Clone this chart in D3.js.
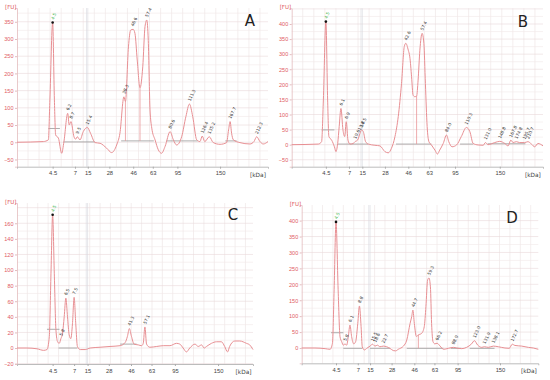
<!DOCTYPE html>
<html>
<head>
<meta charset="utf-8">
<script src="https://cdn.jsdelivr.net/npm/d3@7"></script>
<style>
body { margin: 0; background: #fff; }
svg { font-family: "DejaVu Sans", Arial, sans-serif; }
</style>
</head>
<body>
<div id="chart"></div>
<script>
// ladder sizes (kDa) shown under every x axis; positions are migration time in % of run
const ladderKda = ['4.5', '7', '15', '28', '46', '63', '95', '150'];
const ladderA = [14.2, 23.1, 28.2, 36.8, 46.3, 54.1, 63.9, 80.9];
const ladderB = [13.6, 22.8, 28.1, 37.1, 46.4, 54.7, 65.0, 82.8];
const ladderC = [15.1, 24.2, 29.9, 38.9, 48.3, 57.0, 66.9, 85.2];
const ladderD = [14.5, 23.7, 28.9, 38.0, 47.6, 56.1, 65.9, 83.8];

const yTicksA = [-50, 0, 50, 100, 150, 200, 250, 300, 350];
const yTicksB = [-50, 0, 50, 100, 150, 200, 250, 300, 350, 400];
const yTicksC = [-20, 0, 20, 40, 60, 80, 100, 120, 140, 160];
const yTicksD = [0, 50, 100, 150, 200, 250, 300, 350, 400];

// electropherogram traces: [time %, fluorescence FU]
const traceA = [[0,0],[10.5,2],[12.5,7],[13.1,123],[14.2,348],[14.9,123],[15.4,21],[16.5,12],[17.8,-32],[18.7,2],[20.2,84],[20.8,50],[21.5,60],[22.7,16],[23.4,9],[24.0,16],[25.1,7],[26.4,31],[28.0,43],[29.3,26],[31.1,-1],[33.1,-3],[35.7,-17],[37.7,-30],[39.7,-8],[41.0,26],[42.6,132],[43.2,118],[44.4,277],[45.3,326],[46.3,328],[47.0,316],[47.9,239],[49.0,158],[50.1,219],[51.0,336],[51.7,355],[52.3,296],[53.0,94],[53.7,41],[55.0,7],[56.3,-22],[57.6,-32],[59.0,-12],[61.0,31],[62.3,7],[63.6,-8],[65.6,16],[67.3,75],[68.7,111],[70.0,75],[71.6,7],[72.9,2],[73.8,18],[74.8,2],[76.6,16],[78.2,-1],[80.9,-6],[83.5,-1],[84.3,36],[84.9,60],[85.5,26],[86.2,7],[88.8,-1],[92.8,-5],[94.4,2],[95.5,16],[96.8,2],[98.1,-5],[100,2]];
const traceB = [[0,0],[10.6,2],[11.9,10],[12.6,148],[13.6,408],[14.3,148],[14.8,27],[15.9,15],[17.0,-7],[17.6,-23],[18.3,4],[18.9,60],[19.6,120],[20.4,49],[21.1,27],[21.7,76],[22.4,15],[23.2,2],[24.5,4],[25.2,10],[26.2,15],[27.2,38],[27.8,49],[28.5,43],[29.4,10],[30.5,2],[33.1,-2],[35.1,-4],[37.1,-23],[38.4,-27],[39.7,-12],[41.1,27],[42.4,93],[43.7,203],[44.8,325],[45.4,336],[46.4,313],[47.0,291],[47.7,225],[48.3,164],[49.0,159],[49.7,161],[50.3,214],[51.0,313],[51.9,369],[52.6,336],[53.2,203],[53.9,60],[54.6,10],[55.6,-1],[57.0,-18],[58.0,-31],[58.9,-18],[60.3,4],[61.6,32],[62.5,10],[63.8,-7],[65.6,-1],[67.5,27],[69.5,57],[70.9,43],[72.2,4],[74.2,-1],[76.2,-2],[77.1,7],[78.1,0],[80.8,7],[82.8,11],[84.8,4],[86.1,-4],[87.2,15],[88.1,7],[89.4,10],[90.7,7],[92.7,7],[94.0,10],[95.4,2],[96.7,-7],[98.0,4],[100,-4]];
const traceC = [[0,0],[4.2,0],[8.5,-1],[11.3,-3],[12.7,-2],[13.7,15],[14.4,96],[15.1,171],[15.8,96],[16.5,23],[17.2,8],[17.9,6],[18.6,12],[19.3,19],[20.0,40],[20.7,64],[21.4,40],[22.1,17],[22.8,12],[23.5,31],[24.2,65],[24.9,31],[25.6,2],[26.8,-2],[28.9,-2],[31.0,0],[35.2,1],[39.4,2],[43.7,3],[45.8,7],[46.8,15],[47.6,25],[48.5,15],[49.6,5],[51.4,4],[52.8,3],[53.5,6],[54.2,27],[54.9,5],[56.3,1],[59.2,2],[62.0,3],[64.8,3],[67.6,6],[69.0,5],[70.4,0],[71.8,-5],[73.2,0],[75.4,5],[76.8,2],[78.2,4],[79.3,0],[80.3,2],[82.4,6],[84.5,8],[86.6,8],[88.0,2],[89.2,-5],[90.1,2],[92.3,9],[94.4,9],[97.2,6],[98.6,4],[100,-2]];
const traceD = [[0,0],[5.6,0],[9.9,-2],[12.0,-4],[13.0,15],[13.7,183],[14.5,396],[15.4,183],[16.2,35],[16.9,20],[17.6,9],[18.3,13],[19.0,9],[19.7,36],[20.4,72],[21.1,36],[22.0,13],[22.8,20],[23.7,77],[24.4,132],[25.1,67],[25.6,4],[26.5,-6],[27.5,-1],[28.9,6],[29.9,12],[31.0,6],[32.0,9],[33.1,4],[34.5,6],[35.9,4],[37.3,-1],[38.7,-8],[39.7,-9],[40.8,-4],[43.0,6],[44.4,25],[45.8,77],[46.5,99],[47.0,119],[47.6,77],[48.5,36],[49.3,41],[50.7,46],[51.8,67],[52.5,130],[53.2,213],[53.8,220],[54.4,192],[54.9,77],[55.5,20],[56.3,13],[57.2,15],[58.5,6],[59.9,-4],[62.0,-1],[64.1,2],[65.5,0],[67.6,-2],[69.7,2],[71.8,13],[73.0,23],[74.4,9],[76.1,2],[77.2,4],[78.9,2],[81.0,6],[83.1,4],[85.9,0],[87.7,-1],[89.0,12],[90.1,8],[93.0,6],[95.8,2],[97.9,0],[100,-4]];

// called peaks: [time %, FU, size label]; first one is the lower marker
const peaksA = [[14.2,348,'4.5'],[20.2,84,'6.2'],[21.5,60,'8.7'],[24.0,16,'9.5'],[28.0,43,'15.4'],[42.6,132,'38.3'],[46.0,328,'46.6'],[51.7,355,'57.4'],[61.0,31,'80.6'],[68.7,111,'111.3'],[73.8,18,'126.4'],[76.6,16,'135.2'],[84.9,60,'167.7'],[95.5,16,'212.3']];
const peaksB = [[13.6,408,'4.5'],[19.6,120,'6.1'],[21.7,76,'6.9'],[25.2,10,'10.6'],[27.0,38,'13.8'],[27.8,49,'14.5'],[45.4,336,'42.6'],[51.9,369,'57.4'],[61.6,32,'84.0'],[69.5,57,'110.3'],[77.1,7,'131.0'],[82.8,11,'148.8'],[87.2,15,'167.8'],[89.4,10,'174.8'],[92.5,8,'195.7'],[94.0,10,'210.7']];
const peaksC = [[15.1,171,'4.5'],[18.6,12,'5.8'],[20.7,64,'6.5'],[24.2,65,'7.5'],[47.6,25,'41.3'],[54.2,27,'57.1']];
const peaksD = [[14.5,396,'4.5'],[18.3,13,'5.8'],[20.4,72,'6.1'],[24.4,132,'8.8'],[29.9,12,'15.5'],[31.0,9,'18.6'],[34.5,6,'22.7'],[47.0,119,'44.7'],[53.8,220,'59.3'],[57.2,15,'66.2'],[64.1,2,'88.0'],[73.0,23,'123.0'],[77.2,4,'131.9'],[81.0,6,'138.1'],[89.0,12,'172.7']];

// integration baselines: [start %, end %, FU]
const basesA = [[18.5,31.0,1],[41.5,54.5,4],[59.5,72.0,4],[83.0,87.5,4]];
const basesB = [[18.3,30.5,2],[41.5,55.6,2],[67.0,72.2,2],[78.0,93.0,3]];
const basesC = [[17.6,25.6,0],[43.7,50.7,5]];
const basesD = [[17.6,25.6,-1],[28.9,37.3,-1],[44.4,59.9,-1],[63.0,67.5,-1],[71.0,81.5,-1]];
// lower-marker height lines: [start %, end %, FU]
const markerA = [12.5, 17.1, 40];
const markerB = [11.9, 17.0, 49];
const markerC = [12.7, 18.0, 24];
const markerD = [12.4, 17.6, 48];
// peak split lines: [time %, top FU, bottom FU]
const dropsA = [[43.2,118,4],[49.0,158,4]];
const dropsB = [[49.7,161,2]];
const dropsC = [];
const dropsD = [[49.3,41,-1]];

const width = 550;
const height = 380;

const svg = d3.select('#chart').append('svg')
    .attr('width', width)
    .attr('height', height);

const panels = [
    { name: 'A', ladder: ladderA, yTicks: yTicksA, minor: 25, trace: traceA, peaks: peaksA, bases: basesA, marker: markerA, drops: dropsA,
      x0: 17, x1: 268, top: 8, bottom: 166.7, yDomain: [-71, 390], letter: [250, 26] },
    { name: 'B', ladder: ladderB, yTicks: yTicksB, minor: 25, trace: traceB, peaks: peaksB, bases: basesB, marker: markerB, drops: dropsB,
      x0: 291.7, x1: 543, top: 8.3, bottom: 166.7, yDomain: [-73, 452], letter: [523, 27] },
    { name: 'C', ladder: ladderC, yTicks: yTicksC, minor: 10, trace: traceC, peaks: peaksC, bases: basesC, marker: markerC, drops: dropsC,
      x0: 17, x1: 253, top: 203, bottom: 364, yDomain: [-20.5, 186], letter: [233, 220] },
    { name: 'D', ladder: ladderD, yTicks: yTicksD, minor: 25, trace: traceD, peaks: peaksD, bases: basesD, marker: markerD, drops: dropsD,
      x0: 301.7, x1: 538.3, top: 205, bottom: 363.3, yDomain: [-48, 449], letter: [512, 223] }
];

panels.forEach(drawPanel);

function drawPanel(p) {
    const g = svg.append('g').attr('class', 'panel-' + p.name);

    const x = d3.scaleLinear().domain([0, 100]).range([p.x0, p.x1]);
    const y = d3.scaleLinear().domain(p.yDomain).range([p.bottom, p.top]);

    // grid
    const grid = g.append('g').attr('class', 'grid');
    grid.selectAll('.vgrid')
        .data(d3.range(4.4, 100, 4.4))
        .enter().append('line')
        .attr('x1', d => x(d)).attr('x2', d => x(d))
        .attr('y1', p.top).attr('y2', p.bottom)
        .attr('stroke', '#ede2e3').attr('stroke-width', 0.6);
    const yStart = Math.ceil(p.yDomain[0] / p.minor) * p.minor;
    grid.selectAll('.hgrid')
        .data(d3.range(yStart, p.yDomain[1], p.minor))
        .enter().append('line')
        .attr('x1', p.x0).attr('x2', p.x1)
        .attr('y1', d => y(d)).attr('y2', d => y(d))
        .attr('stroke', d => (d % (p.minor * 2) === 0 ? '#e9d9da' : '#f2e9ea'))
        .attr('stroke-width', 0.6);
    // ladder 15 kDa reference lines
    const ref = x(p.ladder[2]);
    [ref - 1.3, ref].forEach(xx => {
        grid.append('line')
            .attr('x1', xx).attr('x2', xx)
            .attr('y1', p.top).attr('y2', p.bottom)
            .attr('stroke', '#d6d8df').attr('stroke-width', 0.6);
    });

    // axes
    const yAxis = d3.axisLeft(y).tickValues(p.yTicks).tickSize(2).tickPadding(1.5);
    const gy = g.append('g').attr('transform', `translate(${p.x0},0)`).call(yAxis);
    gy.select('.domain').attr('stroke', '#e3bcbe').attr('stroke-width', 0.8);
    gy.selectAll('.tick line').attr('stroke', '#e3bcbe');
    gy.selectAll('text').attr('fill', '#e0595e').attr('font-size', 5.5);

    const xAxis = d3.axisBottom(x).tickValues(p.ladder)
        .tickFormat((d, i) => ladderKda[i]).tickSize(2).tickPadding(2.5);
    const gx = g.append('g').attr('transform', `translate(0,${p.bottom})`).call(xAxis);
    gx.select('.domain').attr('stroke', '#ababab').attr('stroke-width', 0.8);
    gx.selectAll('.tick line').attr('stroke', '#ababab');
    gx.selectAll('text').attr('fill', '#444').attr('font-size', 5.8);

    g.append('text')
        .attr('x', x(96)).attr('y', p.bottom + 10)
        .attr('text-anchor', 'middle')
        .attr('font-size', 5.8).attr('fill', '#444')
        .text('[kDa]');
    g.append('text')
        .attr('x', p.x0 - 12).attr('y', p.top + 1)
        .attr('font-size', 5.5).attr('fill', '#e0595e')
        .text('[FU]');

    // baselines and marker line
    g.selectAll('.base')
        .data(p.bases)
        .enter().append('line')
        .attr('x1', d => x(d[0])).attr('x2', d => x(d[1]))
        .attr('y1', d => y(d[2])).attr('y2', d => y(d[2]))
        .attr('stroke', '#999').attr('stroke-width', 0.8);
    g.append('line')
        .attr('x1', x(p.marker[0])).attr('x2', x(p.marker[1]))
        .attr('y1', y(p.marker[2])).attr('y2', y(p.marker[2]))
        .attr('stroke', '#999').attr('stroke-width', 0.8);

    g.selectAll('.drop')
        .data(p.drops)
        .enter().append('line')
        .attr('x1', d => x(d[0])).attr('x2', d => x(d[0]))
        .attr('y1', d => y(d[1])).attr('y2', d => y(d[2]))
        .attr('stroke', '#e99598').attr('stroke-width', 0.8);

    // trace
    const line = d3.line()
        .x(d => x(d[0]))
        .y(d => y(d[1]))
        .curve(d3.curveMonotoneX);
    g.append('path')
        .datum(p.trace)
        .attr('d', line)
        .attr('fill', 'none')
        .attr('stroke', '#e88f93')
        .attr('stroke-width', 1);

    // peak labels
    g.selectAll('.plabel')
        .data(p.peaks)
        .enter().append('text')
        .attr('transform', d => `translate(${x(d[0]) + 1},${y(d[1]) - 2.5}) rotate(-65)`)
        .attr('font-size', 4.3)
        .attr('fill', (d, i) => (i === 0 ? '#3bb54a' : '#333'))
        .text(d => d[2]);

    const m = p.peaks[0];
    g.append('circle')
        .attr('cx', x(m[0])).attr('cy', y(m[1]))
        .attr('r', 1.3).attr('fill', '#111');

    g.append('text')
        .attr('x', p.letter[0]).attr('y', p.letter[1])
        .attr('text-anchor', 'middle')
        .attr('font-size', 15)
        .attr('fill', '#222')
        .text(p.name);
}
</script>
</body>
</html>
